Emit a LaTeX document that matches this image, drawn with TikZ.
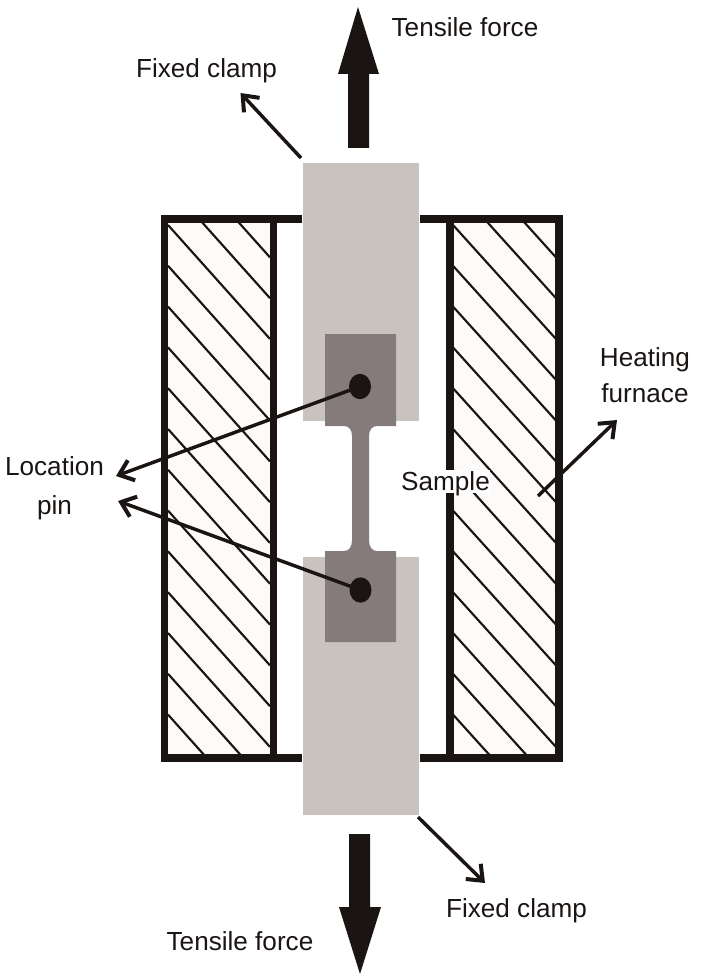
\documentclass[tikz,border=0pt]{standalone}
\usepackage{fontspec}
\setmainfont{Liberation Sans}
\usetikzlibrary{arrows.meta,shapes.geometric}
\definecolor{inkblack}{HTML}{1A1513}
\definecolor{clampgray}{HTML}{C9C3C0}
\definecolor{gripgray}{HTML}{857B7A}
\definecolor{panelwhite}{HTML}{FDFBFA}
\tikzset{
  label text/.style={anchor=base,inner sep=0pt,text=inkblack,font=\fontsize{19.6}{23}\selectfont},
  furnace bar/.style={draw=inkblack,line width=5.8pt,line join=miter},
  hatch line/.style={draw=inkblack,line width=1.6pt},
  thin arrow/.style={draw=inkblack,line width=2.6pt,-{Straight Barb[length=10pt,width=16pt,line width=3pt]}},
  force arrow/.style={fill=inkblack},
  locpin/.style={ellipse,fill=inkblack,inner sep=0pt,minimum width=16.5pt,minimum height=19pt}
}
\begin{document}
\begin{tikzpicture}[x=.75pt,y=-.75pt]
  \useasboundingbox (0,0) rectangle (700,980);
  % furnace walls
  \fill [panelwhite] (164,219) rectangle (274,758);
  \fill [panelwhite] (450,219) rectangle (559,758);
  \begin{scope}
    \clip (168,223) rectangle (270,754);
    \foreach \k in {-2,...,12}
      \draw [hatch line] (168,{225+40.8*\k}) -- (270,{339+40.8*\k});
  \end{scope}
  \begin{scope}
    \clip (453,223) rectangle (556,754);
    \foreach \k in {-2,...,12}
      \draw [hatch line] (453,{225+40.8*\k}) -- (556,{339+40.8*\k});
  \end{scope}
  \draw [furnace bar] (302,219) -- (164.5,219) -- (164.5,758) -- (302,758);
  \draw [furnace bar] (273.5,219) -- (273.5,758);
  \draw [furnace bar] (420,219) -- (559,219) -- (559,758) -- (420,758);
  \draw [furnace bar] (449.7,219) -- (449.7,758);
  % clamps and sample
  \fill [clampgray] (303,163) rectangle (419,421);
  \fill [clampgray] (303,557) rectangle (419,815);
  \fill [gripgray] (325,334) -- (396,334) -- (396,426) -- (377,426)
    .. controls (372,426) and (369,430) .. (369,436) -- (369,540)
    .. controls (369,547) and (372,551) .. (377,551) -- (396,551) -- (396,642)
    -- (325,642) -- (325,551) -- (344,551)
    .. controls (349,551) and (352,547) .. (352,540) -- (352,436)
    .. controls (352,430) and (349,426) .. (344,426) -- (325,426) -- cycle;
  \node [locpin] (pinup) at (360,386.5) {};
  \node [locpin] (pindown) at (360.5,590) {};
  % text
  \node [label text] (forceup) at (465,37) {Tensile force};
  \node [label text] (clampup) at (206.5,78) {Fixed clamp};
  \node [label text] (forcedown) at (240,950) {Tensile force};
  \node [label text] (clampdown) at (516.5,917) {Fixed clamp};
  \node [label text] (pinname) at (54.5,475) {Location};
  \node [label text] (pinnametwo) at (54.5,514) {pin};
  \node [label text] (heatname) at (645,366) {Heating};
  \node [label text] (heatnametwo) at (645,402) {furnace};
  \node [label text,fill=white,text height=15pt,text depth=2pt] (samplename) at (445.5,490) {Sample};
  % free ends of the arrows
  \coordinate (clampupfoot) at (301,158);
  \coordinate (clampuptip) at (240.5,93);
  \coordinate (clampdownfoot) at (418,817);
  \coordinate (clampdowntip) at (485,883);
  \coordinate (heatfoot) at (538,496);
  \coordinate (heattip) at (617,420);
  \coordinate (pinuptip) at (116,476);
  \coordinate (pindowntip) at (118,501);
  \draw [thin arrow] (clampupfoot) -- (clampuptip);
  \draw [thin arrow] (clampdownfoot) -- (clampdowntip);
  \draw [thin arrow] (heatfoot) -- (heattip);
  \draw [thin arrow] (pinup.center) -- (pinuptip);
  \draw [thin arrow] (pindown.center) -- (pindowntip);
  % tensile force arrows
  \fill [force arrow] (348,148) -- (348,74) -- (338,74) -- (358,7) -- (379,74) -- (369,74) -- (369,148) -- cycle;
  \fill [force arrow] (349,834) -- (349,907) -- (339,907) -- (360,974) -- (381,907) -- (370,907) -- (370,834) -- cycle;
\end{tikzpicture}
\end{document}
